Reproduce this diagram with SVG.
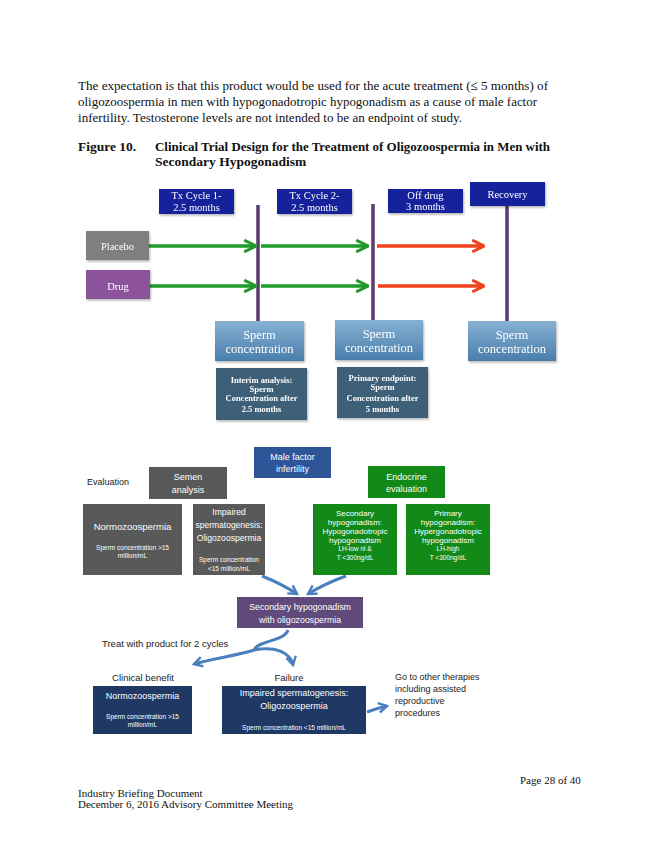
<svg xmlns="http://www.w3.org/2000/svg" width="657" height="850" viewBox="0 0 657 850">
<defs>
<style>
.doc{font-family:"Liberation Serif","Times New Roman",serif;font-size:13.5px;fill:#111}
.docb{font-family:"Liberation Serif","Times New Roman",serif;font-size:13.5px;font-weight:bold;fill:#111}
.foot{font-family:"Liberation Serif","Times New Roman",serif;font-size:11px;fill:#111}
.st{font-family:"Liberation Serif","DejaVu Serif",serif;fill:#fff;text-anchor:middle}
.ss{font-family:"Liberation Sans","Open Sans",sans-serif;fill:#fff;text-anchor:middle}
.sk{font-family:"Liberation Sans","Open Sans",sans-serif;fill:#222}
.navy{fill:#14239c}
.gray{fill:#595959}
.green{fill:#138a17}
.dnavy{fill:#1f3864}
.vline{stroke:#5b3a6e;stroke-width:3.5;fill:none}
.garr{stroke:#1e9b2a;stroke-width:3.5;fill:none;marker-end:url(#mg)}
.rarr{stroke:#f0421f;stroke-width:3.5;fill:none;marker-end:url(#mr)}
.barr{stroke:#4a7fbd;stroke-width:3;fill:none;marker-end:url(#mb)}
</style>
<marker id="mg" viewBox="0 0 10 10" refX="9" refY="5" markerWidth="4.2" markerHeight="4.2" markerUnits="strokeWidth" orient="auto"><polyline points="1,1 9,5 1,9" fill="none" stroke="#1e9b2a" stroke-width="2"/></marker>
<marker id="mr" viewBox="0 0 10 10" refX="9" refY="5" markerWidth="4.2" markerHeight="4.2" markerUnits="strokeWidth" orient="auto"><polyline points="1,1 9,5 1,9" fill="none" stroke="#f0421f" stroke-width="2"/></marker>
<marker id="mb" viewBox="0 0 10 10" refX="8" refY="5" markerWidth="4" markerHeight="4" markerUnits="strokeWidth" orient="auto"><polyline points="1,1 8,5 1,9" fill="none" stroke="#4a7fbd" stroke-width="2"/></marker>
<linearGradient id="gs" x1="0" y1="0" x2="0" y2="1"><stop offset="0" stop-color="#86b1d4"/><stop offset="1" stop-color="#4a7eab"/></linearGradient>
<filter id="sh" x="-10%" y="-10%" width="125%" height="130%"><feDropShadow dx="1" dy="1.5" stdDeviation="1" flood-color="#000" flood-opacity="0.3"/></filter>
</defs>
<rect width="657" height="850" fill="#fff"/>

<g id="intro">
<text class="doc" x="78" y="90" textLength="470" lengthAdjust="spacingAndGlyphs">The expectation is that this product would be used for the acute treatment (≤ 5 months) of</text>
<text class="doc" x="78" y="106" textLength="459" lengthAdjust="spacingAndGlyphs">oligozoospermia in men with hypogonadotropic hypogonadism as a cause of male factor</text>
<text class="doc" x="78" y="122" textLength="384" lengthAdjust="spacingAndGlyphs">infertility.  Testosterone levels are not intended to be an endpoint of study.</text>
<text class="docb" x="78" y="151">Figure 10.</text>
<text class="docb" x="155" y="151" textLength="395" lengthAdjust="spacingAndGlyphs">Clinical Trial Design for the Treatment of Oligozoospermia in Men with</text>
<text class="docb" x="155" y="166">Secondary Hypogonadism</text>
</g>

<g id="connectors">
<line class="vline" x1="258" y1="205" x2="258" y2="321"/>
<line class="vline" x1="373" y1="204" x2="373" y2="320"/>
<line class="vline" x1="507" y1="205" x2="507" y2="321"/>
<line class="garr" x1="149" y1="246" x2="256" y2="246"/>
<line class="garr" x1="261" y1="246" x2="368" y2="246"/>
<line class="rarr" x1="377" y1="246" x2="484" y2="246"/>
<line class="garr" x1="150" y1="286" x2="256" y2="286"/>
<line class="garr" x1="261" y1="286" x2="368" y2="286"/>
<line class="rarr" x1="378" y1="286" x2="484" y2="286"/>
<path class="barr" d="M262,576 Q282,584 297,594"/>
<path class="barr" d="M346,576 Q324,584 308,594"/>
<path class="barr" d="M288,630 C284,642 258,640 254,650 C240,655 215,658 194,664"/>
<path class="barr" d="M254,650 C275,646 290,652 293,665"/>
<path class="barr" d="M367,712 Q378,708 387,706"/>
</g>

<g id="tx1" filter="url(#sh)"><rect class="navy" x="159" y="189" width="75" height="25"/>
<text class="st" font-size="10.5" x="196.5" y="199">Tx Cycle 1-</text><text class="st" font-size="10.5" x="196.5" y="210.5">2.5 months</text></g>
<g id="tx2" filter="url(#sh)"><rect class="navy" x="277" y="189" width="75" height="25"/>
<text class="st" font-size="10.5" x="314.5" y="199">Tx Cycle 2-</text><text class="st" font-size="10.5" x="314.5" y="210.5">2.5 months</text></g>
<g id="offdrug" filter="url(#sh)"><rect class="navy" x="388" y="189" width="75" height="24"/>
<text class="st" font-size="10.5" x="425.5" y="199">Off drug</text><text class="st" font-size="10.5" x="425.5" y="210">3 months</text></g>
<g id="recovery" filter="url(#sh)"><rect class="navy" x="470" y="182" width="75" height="24"/>
<text class="st" font-size="10.5" x="507.5" y="198">Recovery</text></g>

<g id="placebo" filter="url(#sh)"><rect fill="#7f7f7f" x="86" y="231" width="63" height="29"/>
<text class="st" font-size="10.5" x="117.5" y="249.5">Placebo</text></g>
<g id="drug" filter="url(#sh)"><rect fill="#8c529c" x="86" y="270" width="64" height="29"/>
<text class="st" font-size="10.5" x="118" y="289.5">Drug</text></g>

<g id="sc1" filter="url(#sh)"><rect fill="url(#gs)" x="215" y="321" width="89" height="40"/>
<text class="st" font-size="12.5" x="259.5" y="339">Sperm</text><text class="st" font-size="12.5" x="259.5" y="352.5">concentration</text></g>
<g id="sc2" filter="url(#sh)"><rect fill="url(#gs)" x="335" y="320" width="88" height="40"/>
<text class="st" font-size="12.5" x="379" y="338">Sperm</text><text class="st" font-size="12.5" x="379" y="351.5">concentration</text></g>
<g id="sc3" filter="url(#sh)"><rect fill="url(#gs)" x="468" y="321" width="88" height="40"/>
<text class="st" font-size="12.5" x="512" y="339">Sperm</text><text class="st" font-size="12.5" x="512" y="352.5">concentration</text></g>

<g id="interim" filter="url(#sh)"><rect fill="#3d5f78" x="216" y="368" width="91" height="52"/>
<g class="st" font-size="8.5" font-weight="bold"><text x="261.5" y="383">Interim analysis:</text><text x="261.5" y="392">Sperm</text><text x="261.5" y="401">Concentration after</text><text x="261.5" y="412">2.5 months</text></g></g>
<g id="primaryep" filter="url(#sh)"><rect fill="#3d5f78" x="337" y="367" width="91" height="51"/>
<g class="st" font-size="8.5" font-weight="bold"><text x="382.5" y="381">Primary endpoint:</text><text x="382.5" y="390">Sperm</text><text x="382.5" y="401">Concentration after</text><text x="382.5" y="412">5 months</text></g></g>

<g id="male"><rect fill="#2e5597" x="254" y="447" width="77" height="31"/>
<text class="ss" font-size="9" x="292.5" y="460">Male factor</text><text class="ss" font-size="9" x="292.5" y="471.5">infertility</text></g>
<text class="sk" font-size="9" x="87" y="485">Evaluation</text>
<g id="semen"><rect class="gray" x="149" y="467" width="78" height="32"/>
<text class="ss" font-size="9" x="188" y="480">Semen</text><text class="ss" font-size="9" x="188" y="493">analysis</text></g>
<g id="normo1"><rect class="gray" x="83" y="504" width="99" height="71"/>
<text class="ss" font-size="9.5" x="132.5" y="529.5">Normozoospermia</text>
<text class="ss" font-size="6.5" x="132.5" y="549.5">Sperm concentration &gt;15</text><text class="ss" font-size="6.5" x="132.5" y="557.5">million/mL</text></g>
<g id="impaired1"><rect class="gray" x="193" y="504" width="72" height="71"/>
<text class="ss" font-size="8.6" x="229" y="515">Impaired</text><text class="ss" font-size="8.6" x="229" y="528" textLength="67" lengthAdjust="spacingAndGlyphs">spermatogenesis:</text><text class="ss" font-size="8.6" x="229" y="541">Oligozoospermia</text>
<text class="ss" font-size="6.5" x="229" y="561.5">Sperm concentration</text><text class="ss" font-size="6.5" x="229" y="570.5">&lt;15 million/mL</text></g>
<g id="endo"><rect class="green" x="368" y="466" width="77" height="32"/>
<text class="ss" font-size="9" x="406.5" y="480">Endocrine</text><text class="ss" font-size="9" x="406.5" y="491.5">evaluation</text></g>
<g id="secondary"><rect class="green" x="313" y="504" width="84" height="71"/>
<g class="ss" font-size="8"><text x="355" y="516">Secondary</text><text x="355" y="525">hypogonadism:</text><text x="355" y="534">Hypogonadotropic</text><text x="355" y="542.5">hypogonadism</text></g>
<g class="ss" font-size="6.5"><text x="355" y="550.5">LH-low nl &amp;</text><text x="355" y="559.5">T &lt;300ng/dL</text></g></g>
<g id="primary"><rect class="green" x="406" y="504" width="84" height="71"/>
<g class="ss" font-size="8"><text x="448" y="516">Primary</text><text x="448" y="525">hypogonadism:</text><text x="448" y="534">Hypergonadotropic</text><text x="448" y="542.5">hypogonadism</text></g>
<g class="ss" font-size="6.5"><text x="448" y="550.5">LH-high</text><text x="448" y="559.5">T &lt;300ng/dL</text></g></g>

<g id="sechypo"><rect fill="#604a7b" x="237" y="597" width="126" height="31"/>
<text class="ss" font-size="8.8" x="300" y="610">Secondary hypogonadism</text><text class="ss" font-size="8.8" x="300" y="623">with oligozoospermia</text></g>
<text class="sk" font-size="9.5" x="102" y="646.5">Treat with product for 2 cycles</text>
<text class="sk" font-size="9.5" x="143" y="680.5" text-anchor="middle">Clinical benefit</text>
<text class="sk" font-size="9.5" x="289" y="680.5" text-anchor="middle">Failure</text>
<g id="normo2"><rect class="dnavy" x="93" y="686" width="99" height="48"/>
<text class="ss" font-size="9" x="142.5" y="699">Normozoospermia</text>
<text class="ss" font-size="6.5" x="142.5" y="718.5">Sperm concentration &gt;15</text><text class="ss" font-size="6.5" x="142.5" y="726.5">million/mL</text></g>
<g id="impaired2"><rect class="dnavy" x="222" y="686" width="144" height="48"/>
<text class="ss" font-size="9" x="294" y="696">Impaired spermatogenesis:</text><text class="ss" font-size="9" x="294" y="709">Oligozoospermia</text>
<text class="ss" font-size="6.5" x="294" y="729.5">Sperm concentration &lt;15 million/mL</text></g>
<g id="other" class="sk" font-size="9"><text x="395" y="680">Go to other therapies</text><text x="395" y="692">including assisted</text><text x="395" y="704">reproductive</text><text x="395" y="716">procedures</text></g>

<g id="footer">
<text class="foot" x="520" y="784">Page 28 of 40</text>
<text class="foot" x="78" y="797">Industry Briefing Document</text>
<text class="foot" x="78" y="808">December 6, 2016 Advisory Committee Meeting</text>
</g>
</svg>
